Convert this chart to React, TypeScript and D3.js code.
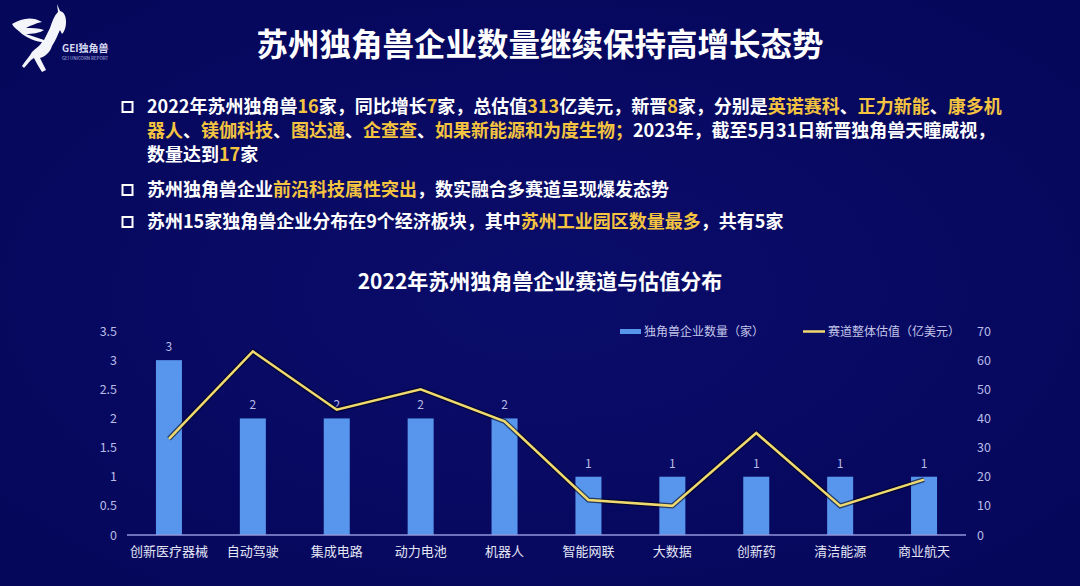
import React from "react";
import * as d3 from "d3";

const categories = ["创新医疗器械", "自动驾驶", "集成电路", "动力电池", "机器人", "智能网联", "大数据", "创新药", "清洁能源", "商业航天"];
const companyCounts = [3, 2, 2, 2, 2, 1, 1, 1, 1, 1];
const valuations = [33, 63, 43, 50, 39, 12, 10, 35, 10, 19];
const leftTicks = [0, 0.5, 1, 1.5, 2, 2.5, 3, 3.5];
const rightTicks = [0, 10, 20, 30, 40, 50, 60, 70];
const seriesNames = ["独角兽企业数量（家）", "赛道整体估值（亿美元）"];

type Seg = [string, boolean];
const bulletLines: { bullet: boolean; y: number; segs: Seg[] }[] = [
  { bullet: true, y: 113, segs: [["2022年苏州独角兽", false], ["16", true], ["家，同比增长", false], ["7", true], ["家，总估值", false], ["313", true], ["亿美元，新晋", false], ["8", true], ["家，分别是", false], ["英诺赛科", true], ["、", false], ["正力新能", true], ["、", false], ["康多机", true]] },
  { bullet: false, y: 137, segs: [["器人", true], ["、", false], ["镁伽科技", true], ["、", false], ["图达通", true], ["、", false], ["企查查", true], ["、", false], ["如果新能源和为度生物；", true], ["2023年，截至5月31日新晋独角兽天瞳威视，", false]] },
  { bullet: false, y: 161, segs: [["数量达到", false], ["17", true], ["家", false]] },
  { bullet: true, y: 196, segs: [["苏州独角兽企业", false], ["前沿科技属性突出", true], ["，数实融合多赛道呈现爆发态势", false]] },
  { bullet: true, y: 228, segs: [["苏州15家独角兽企业分布在9个经济板块，其中", false], ["苏州工业园区数量最多", true], ["，共有5家", false]] },
];

const W = 1080, H = 586;
const FONT = "'Noto Sans CJK SC', 'Noto Sans', sans-serif";
const YELLOW = "#f4c440";
const BAR = "#5796ec";
const LINE = "#f0da70";
const AXIS_TXT = "#b8bbe6";

export default function App() {
  const left = 127, right = 966, top = 331, bottom = 535;
  const x = d3.scaleBand<string>().domain(categories).range([left, right]).paddingInner(0.69).paddingOuter(0.345);
  const yL = d3.scaleLinear().domain([0, 3.5]).range([bottom, top]);
  const yR = d3.scaleLinear().domain([0, 70]).range([bottom, top]);
  const cx = (c: string) => (x(c) as number) + x.bandwidth() / 2;
  const line = d3.line<number>().x((_, i) => cx(categories[i])).y((v) => yR(v));
  const path = line(valuations) || "";

  return (
    <svg width={W} height={H} style={{ position: "absolute", left: 0, top: 0, fontFamily: FONT }}>
      <defs>
        <radialGradient id="bg" cx="50%" cy="50%" r="70%">
          <stop offset="0%" stopColor="#0a0c6a" />
          <stop offset="100%" stopColor="#05075a" />
        </radialGradient>
      </defs>
      <rect width={W} height={H} fill="url(#bg)" />

      {/* logo */}
      <g fill="#f4f4fb">
        <path d="M12,24 C22,18 32,16 42,22 C36,23 30,26 26,28 C32,28 38,28 44,30 C40,33 32,34 26,34 C32,36 38,38 44,40 L50,28 C52,22 54,16 58,12 L57,4 L60,11 C64,12 66,16 66,22 C66,28 64,32 62,34 L60,30 C58,34 56,40 52,46 C50,52 46,56 40,58 C42,62 44,66 46,70 L42,72 C38,66 36,62 34,58 C30,60 28,64 24,68 L22,66 C26,60 30,56 32,52 C36,48 40,46 42,42 C36,42 28,38 22,34 C18,30 14,28 12,24 Z" />
        <text x={62} y={52} fontSize={10} fontWeight={700} fill="#d8daf4">GEI独角兽</text>
        <text x={62} y={60} fontSize={4.5} fill="#b8bae0">GEI UNICORN REPORT</text>
      </g>

      <text x={540} y={56} textAnchor="middle" fontSize={31.5} fontWeight={700} fill="#ffffff">苏州独角兽企业数量继续保持高增长态势</text>

      {bulletLines.map((l, i) => (
        <g key={i}>
          {l.bullet && <rect x={122.5} y={l.y - 11} width={10} height={10} fill="none" stroke="#ffffff" strokeWidth={2} />}
          <text x={147} y={l.y} fontSize={18} fontWeight={700} fill="#ffffff">
            {l.segs.map((s, j) => (
              <tspan key={j} fill={s[1] ? YELLOW : "#ffffff"}>{s[0]}</tspan>
            ))}
          </text>
        </g>
      ))}

      <text x={540} y={289} textAnchor="middle" fontSize={21} fontWeight={700} fill="#ffffff">2022年苏州独角兽企业赛道与估值分布</text>

      {/* legend */}
      <rect x={620} y={329} width={21} height={5} fill={BAR} />
      <text x={644} y={335.5} fontSize={12} fill="#c4c6ea">{seriesNames[0]}</text>
      <line x1={803} x2={825} y1={331.5} y2={331.5} stroke={LINE} strokeWidth={2.5} />
      <text x={828} y={335.5} fontSize={12} fill="#c4c6ea">{seriesNames[1]}</text>

      {leftTicks.map((t) => (
        <text key={"l" + t} x={117} y={yL(t) + 4.5} textAnchor="end" fontSize={12.5} fill={AXIS_TXT}>{t}</text>
      ))}
      {rightTicks.map((t) => (
        <text key={"r" + t} x={977} y={yR(t) + 4.5} textAnchor="start" fontSize={12.5} fill={AXIS_TXT}>{t}</text>
      ))}

      {categories.map((c, i) => (
        <g key={c}>
          <rect x={x(c)} y={yL(companyCounts[i])} width={x.bandwidth()} height={bottom - yL(companyCounts[i])} fill={BAR} />
          <text x={cx(c)} y={yL(companyCounts[i]) - 9} textAnchor="middle" fontSize={12} fill={AXIS_TXT}>{companyCounts[i]}</text>
          <text x={cx(c)} y={556} textAnchor="middle" fontSize={13} fill="#e4e6f6">{c}</text>
        </g>
      ))}

      <line x1={left} x2={right} y1={bottom} y2={bottom} stroke="#9296dc" strokeWidth={1.5} />

      <path d={path} fill="none" stroke="#000010" strokeOpacity={0.6} strokeWidth={5} strokeLinejoin="miter" />
      <path d={path} fill="none" stroke={LINE} strokeWidth={2.5} strokeLinejoin="miter" />
    </svg>
  );
}
